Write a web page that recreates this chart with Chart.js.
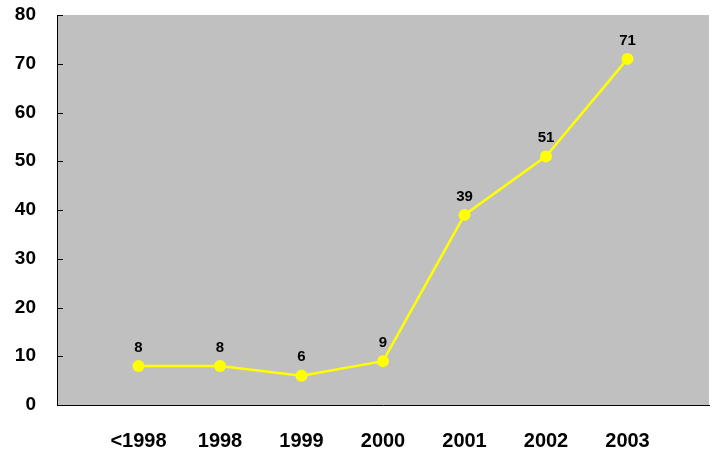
<!DOCTYPE html>
<html>
<head>
<meta charset="utf-8">
<script src="https://cdn.jsdelivr.net/npm/chart.js@4"></script>
<style>
  html, body { margin: 0; padding: 0; background: #fff; }
  #wrap { width: 715px; height: 452px; }
</style>
</head>
<body>
<div id="wrap"><canvas id="chart" width="715" height="452"></canvas></div>
<script>
const categories = ['<1998', '1998', '1999', '2000', '2001', '2002', '2003'];
const values = [8, 8, 6, 9, 39, 51, 71];
const yTicks = [0, 10, 20, 30, 40, 50, 60, 70, 80];

// empty slots at both ends so the points sit one step in from the axes
const labels = [''].concat(categories, ['']);
const data = [null].concat(values, [null]);

const plotBg = {
  id: 'plotBg',
  beforeDraw(chart) {
    const { ctx, chartArea: a } = chart;
    ctx.save();
    ctx.fillStyle = '#c0c0c0';
    ctx.fillRect(a.left, a.top, a.right - a.left, a.bottom - a.top);
    ctx.restore();
  },
  afterDatasetsDraw(chart) {
    const { ctx, chartArea: a } = chart;
    const y = chart.scales.y;
    ctx.save();
    // small inward tick marks on the value axis
    ctx.strokeStyle = '#000';
    ctx.lineWidth = 1;
    yTicks.forEach(v => {
      const py = Math.round(y.getPixelForValue(v)) + 0.5;
      ctx.beginPath();
      ctx.moveTo(a.left, py);
      ctx.lineTo(a.left + 6, py);
      ctx.stroke();
    });
    // value labels above the points
    const meta = chart.getDatasetMeta(0);
    ctx.fillStyle = '#000';
    ctx.font = 'bold 15px "Liberation Sans", Arial, sans-serif';
    ctx.textAlign = 'center';
    ctx.textBaseline = 'bottom';
    meta.data.forEach((pt, i) => {
      if (data[i] == null) return;
      ctx.fillText(String(data[i]), pt.x, pt.y - 11);
    });
    ctx.restore();
  }
};

new Chart(document.getElementById('chart'), {
  type: 'line',
  data: {
    labels: labels,
    datasets: [{
      data: data,
      borderColor: '#ffff00',
      backgroundColor: '#ffff00',
      borderWidth: 2.5,
      pointRadius: 6,
      pointHoverRadius: 6,
      pointBorderWidth: 0,
      tension: 0
    }]
  },
  options: {
    responsive: false,
    animation: false,
    layout: { padding: { top: 15, right: 5, left: 0, bottom: 0 } },
    plugins: { legend: { display: false }, tooltip: { enabled: false } },
    scales: {
      x: {
        offset: false,
        grid: { display: false, drawTicks: false },
        border: { display: true, color: '#000', width: 1 },
        ticks: {
          color: '#000',
          font: { family: '"Liberation Sans", Arial, sans-serif', size: 20, weight: 'bold' },
          padding: 24,
          autoSkip: false,
          maxRotation: 0
        },
        afterFit(scale) {
          scale.height = 47;
          scale.paddingLeft = 0;
          scale.paddingRight = 0;
        }
      },
      y: {
        min: 0,
        max: 80,
        afterBuildTicks(scale) { scale.ticks = yTicks.map(v => ({ value: v })); },
        grid: { display: false, drawTicks: false },
        border: { display: true, color: '#000', width: 1 },
        ticks: {
          color: '#000',
          font: { family: '"Liberation Sans", Arial, sans-serif', size: 19, weight: 'bold' },
          padding: 21
        },
        afterFit(scale) {
          scale.width = 57;
          scale.paddingTop = 0;
          scale.paddingBottom = 0;
        }
      }
    }
  },
  plugins: [plotBg]
});
</script>
</body>
</html>
